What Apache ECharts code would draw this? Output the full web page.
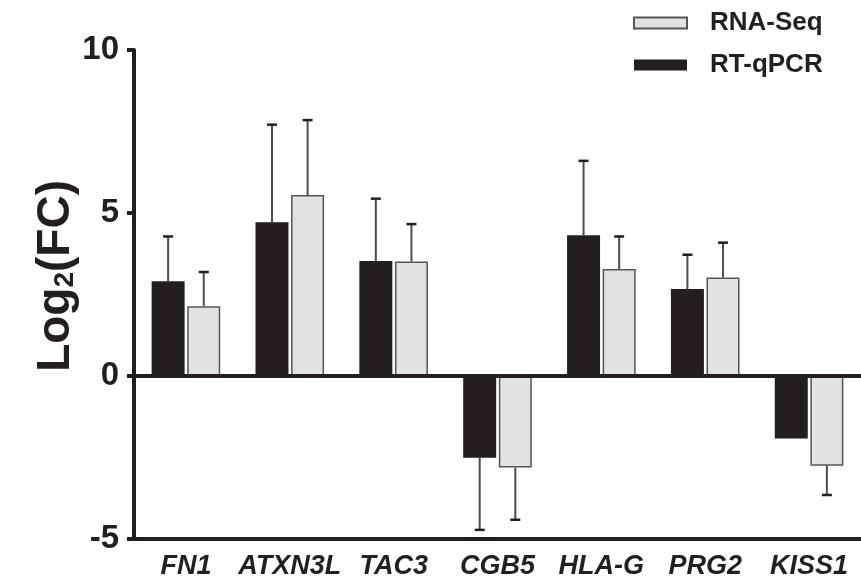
<!DOCTYPE html>
<html>
<head>
<meta charset="utf-8">
<script src="https://cdn.jsdelivr.net/npm/echarts@6/dist/echarts.min.js"></script>
<style>
	html, body {margin: 0; padding: 0; background: #fff;}
	#chart {width: 861px; height: 585px;}
</style>
</head>
<body>
<div id="chart"></div>
<script>
// datos
const genes = ["FN1", "ATXN3L", "TAC3", "CGB5", "HLA-G", "PRG2", "KISS1"];
const rtqpcr = [2.91, 4.72, 3.53, -2.51, 4.32, 2.67, -1.92];
const rtqpcrErr = [1.37, 2.99, 1.91, 2.21, 2.28, 1.05, 0];
const rnaseq = [2.14, 5.55, 3.51, -2.81, 3.28, 3.02, -2.75];
const rnaseqErr = [1.05, 2.3, 1.15, 1.6, 1.0, 1.07, 0.9];
const yTicks = [-5, 0, 5, 10];

const FONT = "Arial, 'Liberation Sans', Helvetica, sans-serif";
const DARK = "#231f20";
const BAR_W = 33;
const BAR_GAP = 2.6;

// error bars: [categoria, valor, error, lado]
const errData = [];
genes.forEach((g, i) => {
	errData.push([i, rtqpcr[i], rtqpcrErr[i], -1]);
	errData.push([i, rnaseq[i], rnaseqErr[i], 1]);
});

function renderError(params, api) {
	const idx = api.value(0);
	const val = api.value(1);
	const err = api.value(2);
	const side = api.value(3);
	if (!err) return;
	const end = val >= 0 ? val + err : val - err;
	const p0 = api.coord([idx, val]);
	const p1 = api.coord([idx, end]);
	const x = p0[0] + side * (BAR_W + BAR_GAP) / 2;
	const style = {stroke: "#4d4d4d", lineWidth: 2};
	return {
		type: "group",
		children: [
			{type: "line", shape: {x1: x, y1: p0[1], x2: x, y2: p1[1]}, style},
			{type: "line", shape: {x1: x - 5, y1: p1[1], x2: x + 5, y2: p1[1]}, style: {stroke: DARK, lineWidth: 2.5}},
		],
	};
}

const options = {
	animation: false,
	backgroundColor: "#fff",
	grid: {left: 134, right: -8, top: 50, bottom: 46},
	legend: {
		orient: "vertical",
		left: 628,
		top: 5,
		icon: "rect",
		itemWidth: 53,
		itemHeight: 11,
		itemGap: 16,
		data: ["RNA-Seq", "RT-qPCR"],
		textStyle: {fontFamily: FONT, fontSize: 26, fontWeight: "bold", color: DARK, padding: [0, 0, 0, 18]},
	},
	// titulo del eje Y aparte, para poder moverlo
	graphic: [
		{
			type: "text",
			left: 33,
			top: 180,
			rotation: Math.PI / 2,
			style: {
				text: "Log{sub|2}(FC)",
				font: "bold 46px " + FONT,
				fill: DARK,
				rich: {sub: {fontFamily: FONT, fontSize: 28, fontWeight: "bold", fill: DARK, padding: [18, 0, 0, 0]}},
			},
		},
	],
	xAxis: {
		type: "category",
		data: genes,
		axisLine: {onZero: false, lineStyle: {color: DARK, width: 4}},
		axisTick: {alignWithLabel: true, length: 14, lineStyle: {color: DARK, width: 4}},
		axisLabel: {interval: 0, fontFamily: FONT, fontSize: 27, fontWeight: "bold", fontStyle: "italic", color: DARK, margin: 14},
	},
	yAxis: {
		type: "value",
		min: yTicks[0],
		max: yTicks[yTicks.length - 1],
		interval: 5,
		splitLine: {show: false},
		axisLine: {show: true, lineStyle: {color: DARK, width: 4}},
		axisTick: {show: true, length: 7, lineStyle: {color: DARK, width: 4}},
		axisLabel: {fontFamily: FONT, fontSize: 33, fontWeight: "bold", color: DARK, margin: 15},
	},
	series: [
		{
			name: "RT-qPCR",
			type: "bar",
			data: rtqpcr,
			barWidth: BAR_W,
			barGap: (BAR_GAP / BAR_W * 100) + "%",
			itemStyle: {color: DARK},
			markLine: {
				silent: true,
				symbol: "none",
				label: {show: false},
				lineStyle: {color: DARK, width: 4, type: "solid"},
				data: [{yAxis: 0}],
			},
		},
		{
			name: "RNA-Seq",
			type: "bar",
			data: rnaseq,
			barWidth: BAR_W,
			itemStyle: {color: "#e1e2e4", borderColor: "#555", borderWidth: 1.5},
		},
		{
			type: "custom",
			renderItem: renderError,
			data: errData,
			z: 1,
		},
	],
};

const chart = echarts.init(document.getElementById("chart"));
chart.setOption(options);
</script>
</body>
</html>
